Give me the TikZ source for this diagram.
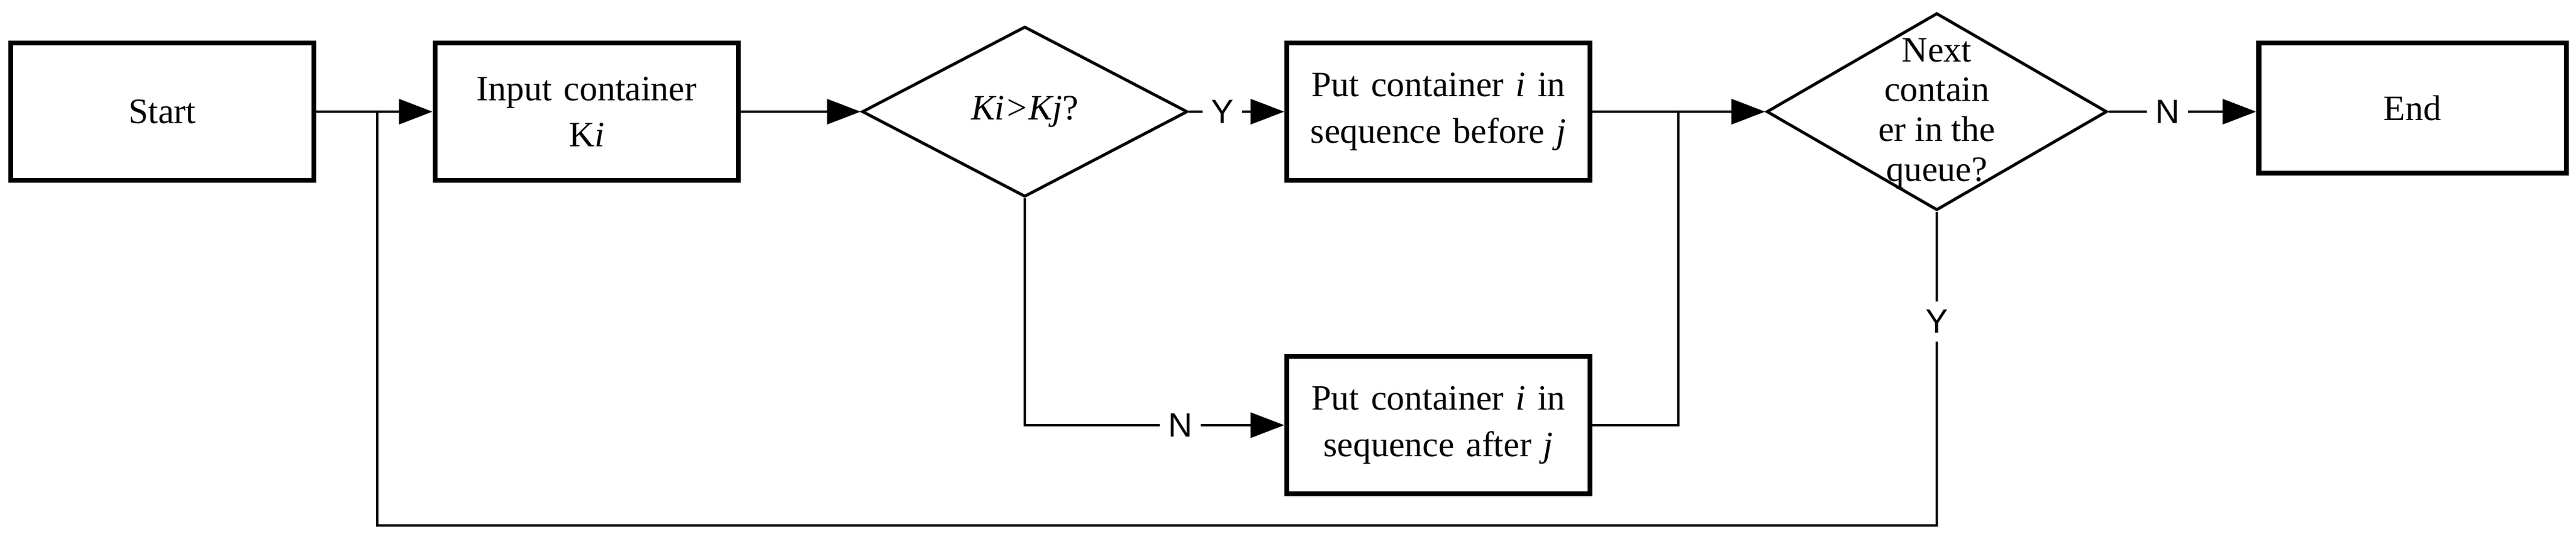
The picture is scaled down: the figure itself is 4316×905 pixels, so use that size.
\documentclass[tikz,border=0pt]{standalone}
\usepackage{fontspec}
\setmainfont{Liberation Serif}
\newfontfamily\lblfont{Liberation Sans}
\usetikzlibrary{shapes.geometric,arrows.meta}
\begin{document}
\begin{tikzpicture}[x=0.01cm,y=-0.01cm,
  box/.style={draw,line width=2.4pt,minimum width=5.08cm,minimum height=2.3cm,align=center,font=\fontsize{17}{22}\selectfont,inner sep=0pt},
  dia/.style={draw,line width=1.4pt,diamond,inner sep=0pt},
  txt/.style={align=center,font=\fontsize{17}{19}\selectfont,inner sep=0pt},
  lbl/.style={fill=white,font=\lblfont\fontsize{16}{18}\selectfont,inner sep=4pt},
  con/.style={line width=0.9pt},
  arr/.style={con,-{Triangle[length=16pt,width=12pt]}}]
\useasboundingbox (0,0) rectangle (4316,905);
\node[box] (start) at (272,187) {Start};
\node[box,text width=4.6cm] (inp) at (983,187) {Input container\\K\textit{i}};
\node[dia,minimum width=5.45cm,minimum height=2.85cm] (d1) at (1717,187) {};
\node[txt] (t1) at (d1.center) {\textit{Ki>Kj}?};
\node[box,text width=4.9cm] (bef) at (2410,187) {Put container \textit{i} in\\sequence before \textit{j}};
\node[box,text width=4.9cm] (aft) at (2410,712) {Put container \textit{i} in\\sequence after \textit{j}};
\node[dia,minimum width=5.7cm,minimum height=3.3cm] (d2) at (3245,187) {};
\node[txt] (t2) at (3245,190) {Next\\contain\\er in the\\queue?};
\node[box,minimum width=5.15cm,minimum height=2.18cm] (end) at (4042,181) {End};
\coordinate (j1) at (632,187);
\coordinate (j2) at (2812,187);
\coordinate (lb) at (632,880);
\coordinate (rb) at (3245,880);
\draw[arr] (start.east) -- (inp.west);
\draw[arr] (inp.east) -- (d1.west);
\draw[arr] (d1.east) -- node[lbl,pos=0.35]{Y} (bef.west);
\draw[arr] (d1.south) |- node[lbl,pos=0.8]{N} (aft.west);
\draw[arr] (bef.east) -- (d2.west);
\draw[con] (aft.east) -| (j2);
\draw[arr] (d2.east) -- node[lbl,pos=0.4]{N} (end.west |- d2.east);
\draw[con] (d2.south) -- node[lbl,pos=0.35]{Y} (rb) -- (lb) -- (j1);
\end{tikzpicture}
\end{document}
